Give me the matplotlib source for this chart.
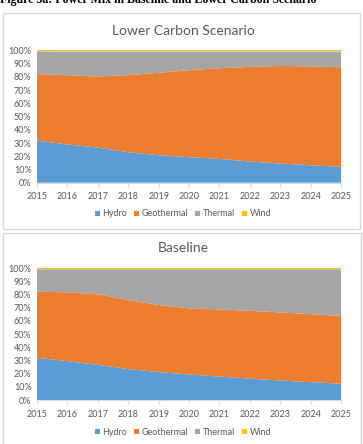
import matplotlib.pyplot as plt
from matplotlib.patches import Rectangle

years = [2015, 2016, 2017, 2018, 2019, 2020, 2021, 2022, 2023, 2024, 2025]

# shares in %
lc_hydro = [31.9, 28.9, 26.6, 23.0, 20.8, 19.3, 18.0, 16.0, 14.5, 13.2, 12.0]
lc_geo = [50.3, 52.4, 53.7, 58.4, 62.3, 65.8, 68.6, 71.6, 73.8, 74.8, 75.3]
lc_wind = [0.7, 0.7, 0.7, 0.7, 0.7, 0.7, 0.7, 0.7, 0.7, 0.7, 0.7]

bl_hydro = [32.1, 29.5, 26.7, 23.5, 21.2, 19.4, 17.8, 16.2, 14.8, 13.5, 12.4]
bl_geo = [50.1, 52.3, 53.6, 52.4, 50.9, 50.2, 51.0, 51.5, 51.7, 51.7, 51.4]
bl_wind = [0.8, 0.8, 0.8, 0.8, 0.8, 0.8, 0.8, 0.8, 0.8, 0.8, 0.8]

names = ['Hydro', 'Geothermal', 'Thermal', 'Wind']
colors = ['#5B9BD5', '#ED7D31', '#A5A5A5', '#FFC000']
txt = '#595959'

plt.rcParams['font.family'] = ['Lato', 'DejaVu Sans']

W, H = 363, 444
fig = plt.figure(figsize=(W / 100, H / 100), dpi=100)

def fx(px):
    return px / W

def fy(py):
    return 1 - py / H

# chart frames
fig.patches.append(Rectangle((fx(3), fy(229)), fx(357), 216 / H, transform=fig.transFigure,
                             facecolor='white', edgecolor='#D9D9D9', lw=1, zorder=-5))
fig.patches.append(Rectangle((fx(3), fy(446)), fx(358), 213 / H, transform=fig.transFigure,
                             facecolor='white', edgecolor='#D9D9D9', lw=1, zorder=-5))

fig.text(0, fy(2.5), 'Figure 3a: Power Mix in Baseline and Lower Carbon Scenario',
         family='Liberation Serif', weight='bold', fontsize=8.6, va='baseline', ha='left')

def panel(top, bottom, title, title_y, legend_y, hydro, geo, wind):
    thermal = [100 - h - g - w for h, g, w in zip(hydro, geo, wind)]
    ax = fig.add_axes([fx(37), fy(bottom), fx(341 - 37), (bottom - top) / H])
    ax.stackplot(years, hydro, geo, thermal, wind, colors=colors, labels=names, lw=0)
    ax.set_xlim(2015, 2025)
    ax.set_ylim(0, 100)
    ax.set_xticks(years)
    ax.set_yticks(range(0, 101, 10))
    ax.set_yticklabels(['%d%%' % v for v in range(0, 101, 10)])
    for s in ['top', 'right', 'left']:
        ax.spines[s].set_visible(False)
    ax.spines['bottom'].set_color('#D9D9D9')
    ax.tick_params(axis='y', length=0, labelsize=6.5, colors=txt, pad=4)
    ax.tick_params(axis='x', length=3, color='#D9D9D9', labelsize=6.5, labelcolor=txt, pad=4)
    fig.text(0.5 + fx(3) / 2, fy(title_y), title, ha='center', va='center', fontsize=10, color=txt)
    h, l = ax.get_legend_handles_labels()
    fig.legend(h, l, loc='center', bbox_to_anchor=(0.5 + fx(3) / 2, fy(legend_y)), ncol=4,
               frameon=False, fontsize=6.5, labelcolor=txt, handlelength=0.55, handleheight=0.55,
               handletextpad=0.25, columnspacing=0.8)
    return ax

panel(50.5, 182.7, 'Lower Carbon Scenario', 31, 214, lc_hydro, lc_geo, lc_wind)
panel(268.3, 400, 'Baseline', 248, 432, bl_hydro, bl_geo, bl_wind)

fig.savefig('out.png', dpi=100)
